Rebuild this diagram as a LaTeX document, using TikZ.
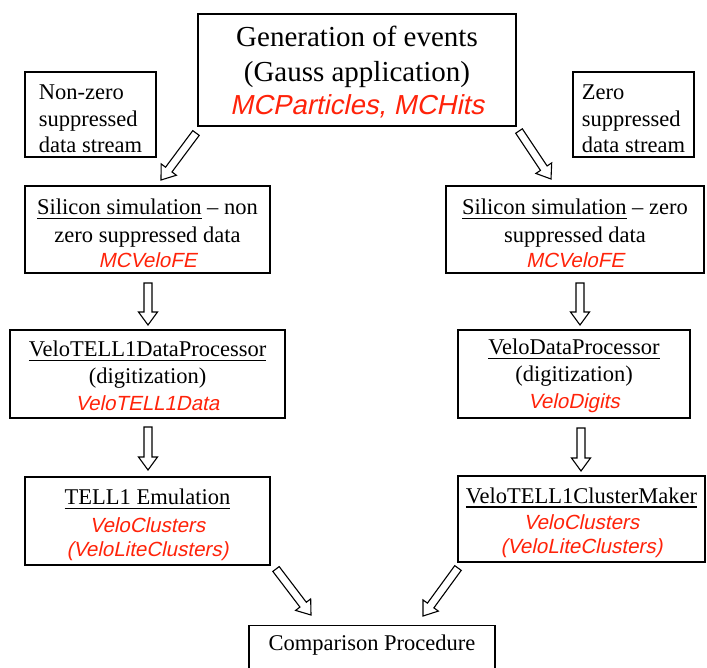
\documentclass[tikz,border=0pt]{standalone}
\usepackage{fontspec}
\setmainfont{Liberation Serif}
\newfontfamily\redit{Liberation Sans}[FakeSlant=0.21]
\usetikzlibrary{calc}
\definecolor{mcred}{RGB}{255,35,10}
\newcommand\rd[1]{{\redit\fontsize{20.5}{28}\selectfont\color{mcred}#1}}
\newcommand\rdbig[1]{{\redit\fontsize{27.5}{35}\selectfont\color{mcred}#1}}
\newcommand\ulin[1]{\setbox0\hbox{#1}\rlap{\rule[-4.5pt]{\wd0}{1.6pt}}\box0\relax}
\newcommand\topstrut[1]{\rule{0pt}{#1}}
\newcommand\barrow[2]{%
  \coordinate (hb) at ($(#2)!13pt!(#1)$);
  \draw[blockarr] ($(#1)!4pt!90:(#2)$) -- ($(hb)!4pt!90:(#2)$) -- ($(hb)!9.5pt!90:(#2)$)
     -- (#2) -- ($(hb)!9.5pt!-90:(#2)$) -- ($(hb)!4pt!-90:(#2)$) -- ($(#1)!4pt!-90:(#2)$) -- cycle;}
\tikzset{
  box/.style={draw, line width=1.1pt, inner sep=0pt, align=center,
              font=\fontsize{22.5}{28}\selectfont},
  blockarr/.style={draw=black, fill=white, line width=1.1pt, line join=miter}
}
\begin{document}
\begin{tikzpicture}[x=1pt,y=-1pt]
\clip (0,0) rectangle (707,667);
\fill[white] (0,0) rectangle (707,667);

\node[box, minimum width=318pt, minimum height=112pt, font=\fontsize{29}{35}\selectfont] (gen) at (357,70)
  {\topstrut{23.6pt}Generation of events\\(Gauss application)\\[-2pt]\rdbig{MCParticles, MCHits}};

\node[box, align=left, minimum width=131pt, minimum height=85pt, font=\fontsize{22.5}{27}\selectfont] (nz) at (90.5,114.5)
  {\topstrut{24pt}Non-zero\\suppressed\\[-1pt]data stream};
\node[box, align=left, minimum width=121pt, minimum height=85pt, font=\fontsize{22.5}{27}\selectfont] (z) at (633.5,114.5)
  {\topstrut{24pt}Zero\\suppressed\\[-1pt]data stream};

\node[box, minimum width=245pt, minimum height=87pt] (simL) at (147.5,229.5)
  {\topstrut{24pt}\ulin{Silicon simulation} -- non\\zero suppressed data\\[-3pt]\rd{MCVeloFE}};
\node[box, minimum width=258pt, minimum height=87pt] (simR) at (575,229.5)
  {\topstrut{24pt}\ulin{Silicon simulation} -- zero\\suppressed data\\[-3pt]\rd{MCVeloFE}};

\node[box, minimum width=275pt, minimum height=88pt] (procL) at (147.5,374)
  {\topstrut{20pt}\ulin{VeloTELL1DataProcessor}\\[-1pt](digitization)\\[-1pt]\rd{VeloTELL1Data}};
\node[box, minimum width=232pt, minimum height=88pt] (procR) at (574,374)
  {\topstrut{20pt}\ulin{VeloDataProcessor}\\[-1pt](digitization)\\[-1pt]\rd{VeloDigits}};

\node[box, minimum width=245pt, minimum height=88pt] (emuL) at (147.5,521)
  {\topstrut{24pt}\ulin{TELL1 Emulation}\\\rd{VeloClusters}\\[-4pt]\rd{(VeloLiteClusters)}};
\node[box, minimum width=247pt, minimum height=86pt] (clusR) at (581.5,519)
  {\topstrut{23pt}\ulin{VeloTELL1ClusterMaker}\\[-2pt]\rd{VeloClusters}\\[-4pt]\rd{(VeloLiteClusters)}};

\node[box, anchor=north, minimum width=246pt, minimum height=56pt, text depth=22pt] (comp) at (372,625)
  {Comparison Procedure};

\coordinate (a1s) at (196,133); \coordinate (a1e) at (161,180);
\coordinate (a2s) at (519,131); \coordinate (a2e) at (551,179);
\coordinate (a3s) at (148,283); \coordinate (a3e) at (148,325);
\coordinate (a4s) at (580,283); \coordinate (a4e) at (580,325);
\coordinate (a5s) at (148,427); \coordinate (a5e) at (148,470);
\coordinate (a6s) at (581,428); \coordinate (a6e) at (581,471);
\coordinate (a7s) at (276,569); \coordinate (a7e) at (311,615);
\coordinate (a8s) at (458,568); \coordinate (a8e) at (423,616);

\barrow{a1s}{a1e}
\barrow{a2s}{a2e}
\barrow{a3s}{a3e}
\barrow{a4s}{a4e}
\barrow{a5s}{a5e}
\barrow{a6s}{a6e}
\barrow{a7s}{a7e}
\barrow{a8s}{a8e}
\end{tikzpicture}
\end{document}
